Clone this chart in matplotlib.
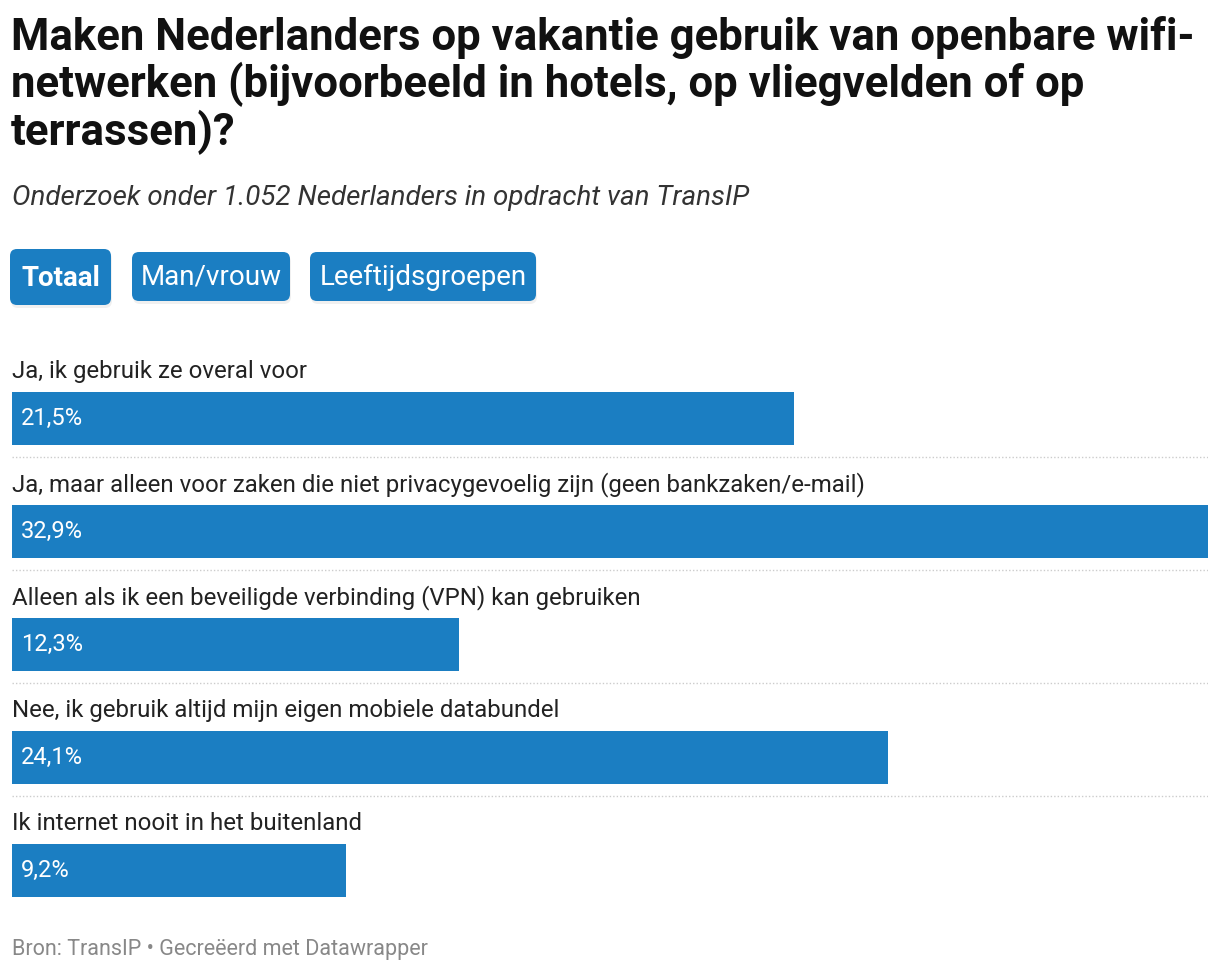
import matplotlib.pyplot as plt
from matplotlib.patches import FancyBboxPatch

plt.rcParams["font.family"] = ["Roboto", "DejaVu Sans"]

TITLE_LINES = [
    "Maken Nederlanders op vakantie gebruik van openbare wifi-",
    "netwerken (bijvoorbeeld in hotels, op vliegvelden of op",
    "terrassen)?",
]
SUBTITLE = "Onderzoek onder 1.052 Nederlanders in opdracht van TransIP"
FOOTER = "Bron: TransIP • Gecreëerd met Datawrapper"
BUTTONS = ["Totaal", "Man/vrouw", "Leeftijdsgroepen"]

categories = [
    "Ja, ik gebruik ze overal voor",
    "Ja, maar alleen voor zaken die niet privacygevoelig zijn (geen bankzaken/e-mail)",
    "Alleen als ik een beveiligde verbinding (VPN) kan gebruiken",
    "Nee, ik gebruik altijd mijn eigen mobiele databundel",
    "Ik internet nooit in het buitenland",
]
values = [21.5, 32.9, 12.3, 24.1, 9.2]

BLUE = "#1b7ec2"
W, H = 1220, 974

fig = plt.figure(figsize=(W / 100, H / 100), dpi=100)

# overlay axes in pixel units for header / buttons / footer
ov = fig.add_axes([0, 0, 1, 1])
ov.set_xlim(0, W)
ov.set_ylim(H, 0)
ov.axis("off")

for k, line in enumerate(TITLE_LINES):
    ov.text(11, 50 + 47.5 * k, line, fontsize=31.5, fontweight="bold",
            color="#111111", va="baseline", ha="left")
ov.text(12, 205, SUBTITLE, fontsize=20, style="italic", color="#333333",
        va="baseline", ha="left")

# buttons: (x0, y0, x1, y1)
boxes = [(10, 249, 111, 305), (132, 252, 290, 301), (310, 252, 536, 301)]
for i, (label, (x0, y0, x1, y1)) in enumerate(zip(BUTTONS, boxes)):
    shadow = FancyBboxPatch((x0 + 1, y0 + 3), x1 - x0, y1 - y0,
                            boxstyle="round,pad=0,rounding_size=7",
                            facecolor="#000000", edgecolor="none", alpha=0.06)
    ov.add_patch(shadow)
    box = FancyBboxPatch((x0, y0), x1 - x0, y1 - y0,
                         boxstyle="round,pad=0,rounding_size=7",
                         facecolor=BLUE, edgecolor="none")
    ov.add_patch(box)
    ov.text((x0 + x1) / 2, (y0 + y1) / 2 + 1, label, color="white",
            fontsize=20, fontweight="bold" if i == 0 else "normal",
            ha="center", va="center")

ov.text(12, 950, FOOTER, fontsize=15.5, color="#888888", va="center", ha="left")

# bar axes: one y unit = 113 px, bar 0 centered at 418.5 px
step = 113.0
top_px, bot_px = 340, 910
ax = fig.add_axes([12 / W, 1 - bot_px / H, 1196 / W, (bot_px - top_px) / H])
ax.set_xlim(0, max(values))
ax.set_ylim((bot_px - 418.5) / step, (top_px - 418.5) / step)
ax.axis("off")

ypos = list(range(len(values)))
ax.barh(ypos, values, height=53 / step, color=BLUE, edgecolor="none")
for y, cat, v in zip(ypos, categories, values):
    ax.text(0, y - 0.42, cat, fontsize=17.3, color="#222222", ha="left", va="center")
    ax.text(0.25, y, f"{v:.1f}%".replace(".", ","), fontsize=17, color="white",
            ha="left", va="center")
    if y < len(values) - 1:
        ax.axhline(y + 0.34, color="#cccccc", linestyle=(0, (1, 1.5)), linewidth=1)

fig.savefig("out.png", dpi=100)
